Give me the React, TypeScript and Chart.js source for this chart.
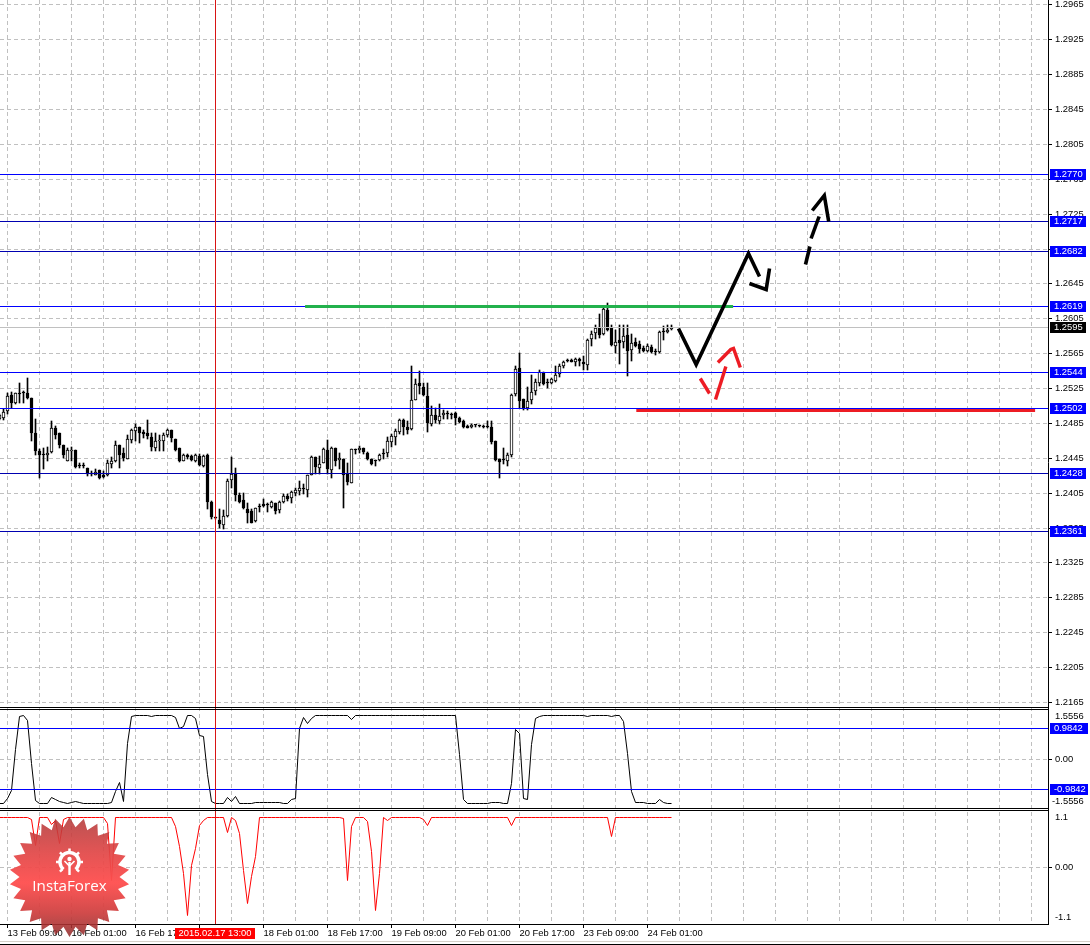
import React, { useEffect, useRef } from "react";
import { Chart, registerables, LinearScale } from "chart.js";

// The terminal draws on whole pixels: this scale does the same.
class SnapScale extends LinearScale {
  static id = "snapLinear";
  static defaults = LinearScale.defaults;
  getPixelForValue(value: number) {
    return Math.floor((super.getPixelForValue as any)(value) + 0.02);
  }
}

Chart.register(...registerables, SnapScale);

// Candles, quoted in points (1/100000 of a price unit), hourly bars
const POINT = 100000;
const opens = [124890,124902,124986,125165,125074,125177,125204,125188,125131,124730,124524,124482,124478,124516,124791,124730,124592,124413,124531,124535,124352,124352,124337,124268,124256,124306,124249,124252,124375,124413,124592,124501,124440,124654,124757,124806,124745,124730,124692,124566,124646,124642,124707,124768,124661,124558,124417,124482,124470,124417,124470,124356,124478,123947,123760,123741,123680,123783,124199,124275,124027,123970,123867,123836,123721,123890,123916,123905,123886,123935,123851,123943,124016,123989,124046,124069,124092,124084,124256,124455,124333,124394,124535,124310,124558,124424,124440,124260,124161,124535,124539,124558,124508,124432,124417,124428,124497,124501,124631,124688,124741,124879,124806,124776,125116,125311,125265,125162,124837,124944,124871,124940,124955,124940,124959,124902,124871,124810,124802,124822,124814,124806,124814,124806,124646,124440,124424,124413,124482,125177,125486,125120,125024,125112,125215,125311,125425,125307,125303,125330,125406,125498,125559,125574,125547,125586,125551,125517,125811,125880,125952,125868,126151,125941,125731,125796,125777,125861,125685,125780,125758,125712,125670,125727,125681,125662,125895,125891,125929];
const highs = [124948,125005,125196,125204,125196,125303,125215,125360,125131,124890,124547,124558,124577,124867,124814,124730,124592,124566,124573,124535,124394,124394,124337,124298,124325,124306,124298,124421,124463,124638,124592,124566,124707,124783,124841,124806,124768,124887,124738,124730,124715,124730,124783,124768,124669,124566,124489,124497,124482,124489,124489,124478,124489,123955,123767,123867,123851,124203,124463,124329,124050,124050,123928,123867,123878,123916,123974,123935,123955,123935,123955,124031,124031,124069,124107,124184,124153,124256,124470,124463,124470,124562,124650,124577,124558,124501,124440,124386,124554,124554,124585,124566,124516,124440,124424,124493,124547,124692,124719,124783,124890,124890,124871,125509,125356,125448,125303,125311,125043,125024,125062,124997,124986,124967,124974,124921,124879,124829,124837,124829,124825,124822,124875,124871,124646,124440,124566,124508,125181,125509,125647,125120,125265,125395,125349,125463,125433,125349,125368,125509,125532,125559,125578,125589,125597,125597,125616,125815,125903,125979,126105,126170,126227,125979,125914,125979,125971,125971,125876,125826,125788,125738,125750,125742,125693,125903,125960,125979,125979];
const lows = [124879,124879,124948,125024,125062,125081,125081,125120,124642,124478,124218,124317,124413,124508,124661,124566,124447,124413,124413,124329,124329,124329,124241,124241,124249,124210,124218,124241,124337,124401,124337,124413,124432,124615,124642,124623,124676,124661,124528,124524,124524,124524,124692,124631,124528,124401,124409,124440,124413,124405,124356,124348,123859,123752,123744,123649,123637,123775,124107,123951,123935,123859,123706,123699,123714,123828,123890,123828,123874,123802,123821,123935,123955,123935,124012,124019,124031,124004,124249,124260,124260,124386,124260,124222,124356,124317,123874,124134,124157,124489,124508,124489,124424,124363,124356,124413,124432,124463,124577,124592,124719,124711,124719,124768,125112,125177,125158,124745,124814,124852,124833,124898,124898,124890,124825,124852,124791,124791,124795,124802,124799,124795,124795,124608,124417,124218,124375,124356,124463,125158,125024,124997,124997,125062,125165,125272,125280,125253,125292,125318,125379,125483,125547,125544,125502,125502,125463,125463,125731,125815,125826,125857,125903,125731,125654,125521,125712,125387,125559,125723,125654,125666,125662,125654,125628,125654,125807,125884,125922];
const closes = [124936,124978,125158,125081,125188,125177,125188,125131,124730,124528,124478,124482,124508,124795,124707,124592,124478,124535,124539,124344,124352,124352,124268,124268,124291,124222,124226,124394,124413,124600,124482,124443,124669,124768,124806,124738,124722,124696,124573,124646,124654,124707,124772,124673,124539,124413,124482,124455,124421,124478,124367,124466,123943,123771,123760,123691,123783,124188,124260,124027,123943,123870,123813,123706,123878,123890,123897,123905,123947,123840,123947,124008,123974,124061,124084,124107,124092,124249,124463,124348,124382,124547,124317,124566,124413,124451,124256,124168,124547,124535,124566,124516,124436,124382,124417,124486,124497,124646,124699,124761,124883,124802,124768,125112,125299,125272,125169,124852,124936,124879,124932,124967,124955,124940,124910,124864,124802,124795,124825,124822,124814,124806,124802,124631,124424,124401,124424,124482,125173,125471,125101,125024,125104,125207,125322,125433,125292,125307,125349,125402,125502,125544,125559,125551,125578,125559,125521,125807,125876,125941,125857,126162,125922,125742,125780,125769,125853,125674,125769,125731,125700,125674,125731,125662,125666,125891,125895,125922,125956];

// Lower panes
const blackOscillator = [-1.42,-1.42,-1.26,-1.01,0.29,1.36,1.41,1.25,-0.14,-1.34,-1.42,-1.42,-1.42,-1.24,-1.31,-1.36,-1.39,-1.42,-1.41,-1.37,-1.41,-1.42,-1.42,-1.42,-1.42,-1.42,-1.42,-1.42,-1.40,-1.05,-0.76,-1.37,0.50,1.36,1.40,1.40,1.41,1.41,1.37,1.38,1.40,1.40,1.41,1.40,1.34,0.98,1.04,1.41,1.38,1.30,0.74,0.72,-0.51,-1.37,-1.43,-1.42,-1.42,-1.24,-1.35,-1.19,-1.42,-1.42,-1.42,-1.42,-1.41,-1.40,-1.40,-1.41,-1.41,-1.41,-1.41,-1.42,-1.42,-1.31,-1.26,0.98,1.32,1.14,1.30,1.39,1.41,1.40,1.39,1.39,1.39,1.41,1.41,1.38,1.28,1.40,1.40,1.40,1.40,1.40,1.40,1.40,1.40,1.40,1.40,1.40,1.40,1.40,1.39,1.40,1.40,1.40,1.39,1.38,1.39,1.39,1.39,1.39,1.39,1.39,1.39,0.13,-1.29,-1.42,-1.42,-1.42,-1.42,-1.42,-1.42,-1.40,-1.40,-1.40,-1.42,-1.42,-0.78,0.95,0.82,-1.26,-1.29,0.45,1.30,1.36,1.39,1.41,1.41,1.41,1.41,1.41,1.41,1.41,1.41,1.41,1.39,1.36,1.40,1.40,1.40,1.40,1.40,1.36,1.40,1.39,1.20,0.18,-1.05,-1.39,-1.41,-1.40,-1.42,-1.42,-1.42,-1.29,-1.40,-1.42,-1.42];
const redOscillator = [1.09,1.09,1.09,1.09,1.09,1.09,1.09,1.09,1.05,0.48,1.09,1.09,1.09,0.94,1.02,0.51,1.05,1.09,1.09,1.09,1.09,1.09,1.09,1.09,1.09,1.09,1.09,0.96,-0.29,1.09,1.09,1.09,1.09,1.09,1.09,1.09,1.09,1.09,1.09,1.09,1.09,1.09,1.09,1.09,0.89,0.45,-0.14,-1.06,0.04,0.41,0.92,1.02,1.09,1.09,1.09,1.09,1.09,0.76,1.09,1.02,0.74,-0.07,-0.81,-0.21,0.24,1.09,1.09,1.09,1.09,1.09,1.09,1.09,1.09,1.09,1.09,1.09,1.09,1.09,1.09,1.09,1.09,1.09,1.09,1.09,1.09,1.09,1.07,-0.29,0.89,1.09,1.09,1.09,1.00,0.34,-0.95,-0.14,1.09,1.02,1.09,1.09,1.09,1.09,1.09,1.09,1.09,1.09,1.05,0.91,1.09,1.09,1.09,1.09,1.09,1.09,1.09,1.09,1.09,1.09,1.09,1.09,1.09,1.09,1.09,1.09,1.09,1.09,1.09,1.09,0.91,1.09,1.09,1.09,1.09,1.09,1.09,1.09,1.09,1.09,1.09,1.09,1.09,1.09,1.09,1.09,1.09,1.09,1.09,1.09,1.09,1.09,1.09,1.09,1.08,0.67,1.09,1.09,1.09,1.09,1.09,1.09,1.09,1.09,1.09,1.09,1.09,1.09,1.09,1.09,1.09];

// Axes
const priceTicks = [1.2965,1.2925,1.2885,1.2845,1.2805,1.2765,1.2725,1.2685,1.2645,1.2605,1.2565,1.2525,1.2485,1.2445,1.2405,1.2365,1.2325,1.2285,1.2245,1.2205,1.2165];
const timeLabels = ["13 Feb 09:00","16 Feb 01:00","16 Feb 17:00","17 Feb 09:00","18 Feb 01:00","18 Feb 17:00","19 Feb 09:00","20 Feb 01:00","20 Feb 17:00","23 Feb 09:00","24 Feb 01:00"];
const gridBars = [2,10,18,26,34,42,50,58,66,74,82,90,98,106,114,122,130,138,146,154,162,170,178,186,194,202,210,218,226,234,242,250,258];
const labelledBars = [2,18,34,50,66,82,98,114,130,146,162];
const crossBar = 54;
const crossLabel = "2015.02.17 13:00";
const xMin = 0.125;
const xMax = 262.125;

// Horizontal levels
const blueLevels = [1.2770,1.2619,1.2544,1.2502];
const darkLevels = [1.2717,1.2682,1.2428,1.2361];
const bidPrice = 1.2595;
const bidGapBars = [192.9,194.4];
const oscLevels = [0.9842,-0.9842];

// Hand-drawn forecast strokes
const blackStrokes = [
  { bars: [169.74,174.17,187.24,190], prices: [1.25941,1.25532,1.26794,1.26533] },
  { bars: [187.5,191.67,192.5], prices: [1.26458,1.26389,1.2663] },
  { bars: [201.5,202.6], prices: [1.26668,1.26877] },
  { bars: [202.9,204.9], prices: [1.26966,1.27222] },
  { bars: [203.2,206.2,207.3], prices: [1.2729,1.27462,1.27164] },
];
const redStrokes = [
  { bars: [175.2,177.5], prices: [1.25368,1.25196] },
  { bars: [179,181.6], prices: [1.25127,1.25501] },
  { bars: [179.6,182.8,183.5,185.2], prices: [1.25551,1.25693,1.25712,1.25494] },
];
const greenBars = [76.4,183.4];
const greenPrice = 1.2619;
const redBars = [159.2,258.9];
const redPrice = 1.25004;

const FONT = '"Liberation Sans"';
const FONT_SIZE = 9.4;
const GRID = "#c0c0c0";
const DASH = [4, 3];
const NONE = "rgba(0,0,0,0)";

const tags = (ctx: CanvasRenderingContext2D, text: string, y: number, w: number, bg: string) => {
  ctx.fillStyle = bg;
  ctx.fillRect(1050, Math.round(y) - 5, w, 11);
  ctx.fillStyle = "#ffffff";
  ctx.font = `${FONT_SIZE}px ${FONT}`;
  ctx.textAlign = "left";
  ctx.textBaseline = "middle";
  ctx.fillText(text, 1054, y + 0.5);
};

const drawBadge = (ctx: CanvasRenderingContext2D) => {
  const cx = 69.5, cy = 877, spikes = 26, outer = 60, inner = 50;
  ctx.save();
  const g = ctx.createLinearGradient(0, cy - outer, 0, cy + outer);
  g.addColorStop(0, "rgba(176,52,52,0.85)");
  g.addColorStop(0.3, "rgba(225,70,70,0.92)");
  g.addColorStop(0.55, "rgba(255,80,80,0.96)");
  g.addColorStop(0.8, "rgba(205,60,60,0.92)");
  g.addColorStop(1, "rgba(140,40,40,0.85)");
  ctx.fillStyle = g;
  ctx.beginPath();
  for (let k = 0; k < spikes * 2; k++) {
    const r = k % 2 === 0 ? outer : inner;
    const a = (Math.PI * k) / spikes - Math.PI / 2;
    const px = cx + r * Math.cos(a), py = cy + r * Math.sin(a);
    if (k === 0) ctx.moveTo(px, py); else ctx.lineTo(px, py);
  }
  ctx.closePath();
  ctx.fill();
  ctx.fillStyle = "#ffffff";
  ctx.strokeStyle = "#ffffff";
  ctx.font = `15.2px "Open Sans"`;
  ctx.textAlign = "center";
  ctx.textBaseline = "middle";
  ctx.fillText("InstaForex", 69.5, 887);
  const gx = 69.5, gy = 862;
  ctx.lineWidth = 3.5;
  ctx.beginPath();
  ctx.arc(gx, gy, 9.5, Math.PI * 0.72, Math.PI * 2.28);
  ctx.stroke();
  ctx.lineWidth = 2.5;
  for (let k = -3; k <= 3; k++) {
    const a = -Math.PI / 2 + (k * Math.PI) / 4;
    ctx.beginPath();
    ctx.moveTo(gx + 10 * Math.cos(a), gy + 10 * Math.sin(a));
    ctx.lineTo(gx + 13.5 * Math.cos(a), gy + 13.5 * Math.sin(a));
    ctx.stroke();
  }
  ctx.beginPath();
  ctx.arc(gx, gy - 3, 2.2, 0, Math.PI * 2);
  ctx.fill();
  ctx.fillRect(gx - 1.2, gy, 2.4, 13);
  ctx.lineWidth = 1.6;
  ctx.beginPath();
  ctx.moveTo(gx - 5, gy - 1);
  ctx.lineTo(gx, gy + 4);
  ctx.lineTo(gx + 5, gy - 1);
  ctx.stroke();
  ctx.restore();
};

const chartDecor = {
  id: "chartDecor",
  beforeDraw(chart: any) {
    const { ctx, width, height } = chart;
    ctx.save();
    ctx.fillStyle = "#ffffff";
    ctx.fillRect(0, 0, width, height);
    ctx.restore();
  },
  beforeDatasetDraw(chart: any, args: any) {
    if (args.meta.type === "line") {
      chart.ctx.save();
      chart.ctx.translate(0, 0.5);
    }
  },
  afterDatasetDraw(chart: any, args: any) {
    if (args.meta.type === "line") chart.ctx.restore();
  },
  afterDatasetsDraw(chart: any) {
    const { ctx, scales } = chart;
    const x = Math.floor(scales.x.getPixelForValue(crossBar)) + 0.5;
    ctx.save();
    ctx.strokeStyle = "#d81414";
    ctx.lineWidth = 1;
    ctx.beginPath();
    ctx.moveTo(x, 0);
    ctx.lineTo(x, scales.y3.bottom);
    ctx.stroke();
    ctx.restore();
  },
  afterDraw(chart: any) {
    const { ctx, scales, width } = chart;
    const { x, y, y2, y3 } = scales;
    ctx.save();
    ctx.strokeStyle = "#000000";
    ctx.lineWidth = 1;
    const right = x.right;
    [y.bottom - 0.5, y.bottom + 1.5, y2.bottom - 0.5, y2.bottom + 1.5, y3.bottom + 0.5].forEach((py: number) => {
      ctx.beginPath();
      ctx.moveTo(0, py);
      ctx.lineTo(right, py);
      ctx.stroke();
    });
    ctx.beginPath();
    ctx.moveTo(right + 0.5, 0);
    ctx.lineTo(right + 0.5, y3.bottom + 1);
    ctx.stroke();
    ctx.fillStyle = "#d4d0c8";
    ctx.fillRect(0, 941, width, 1);
    ctx.fillStyle = "#000000";
    ctx.fillRect(0, 944, width, 1);

    // labels of the upper oscillator that sit inside its pane
    ctx.font = `${FONT_SIZE}px ${FONT}`;
    ctx.textAlign = "left";
    ctx.textBaseline = "middle";
    ctx.fillStyle = "#000000";
    ctx.fillText("1.5556", 1055, y2.getPixelForValue(1.5556) + 6.5);
    ctx.fillText("-1.5556", 1052, y2.getPixelForValue(-1.5556) - 6);

    blueLevels.concat(darkLevels).forEach((p) => tags(ctx, p.toFixed(4), y.getPixelForValue(p), 36, "#0000ff"));
    tags(ctx, bidPrice.toFixed(4), y.getPixelForValue(bidPrice), 36, "#000000");
    oscLevels.forEach((p) => tags(ctx, p.toFixed(4), y2.getPixelForValue(p), 38, "#0000ff"));

    // crosshair date tag
    const cx = x.getPixelForValue(crossBar);
    ctx.fillStyle = "#ff0000";
    ctx.fillRect(cx - 40.5, 928, 80, 11);
    ctx.fillStyle = "#ffffff";
    ctx.textAlign = "center";
    ctx.fillText(crossLabel, cx - 0.5, 933.5);

    drawBadge(ctx);
    ctx.restore();
  },
};

const xy = (bars: number[], values: number[]) => bars.map((b, k) => ({ x: b, y: values[k] }));
const noPadding = (s: any) => {
  s.paddingTop = 0;
  s.paddingBottom = 0;
  s.paddingLeft = 0;
  s.paddingRight = 0;
};

export default function App() {
  const ref = useRef<HTMLCanvasElement | null>(null);

  useEffect(() => {
    if (!ref.current) return;
    const idx = opens.map((_, i) => i);
    const lineBase = { type: "line", pointRadius: 0, tension: 0, fill: false, xAxisID: "x" };
    const stroke = (bars: number[], prices: number[], color: string, width: number, order: number) => ({
      ...lineBase,
      data: xy(bars, prices),
      borderColor: color,
      borderWidth: width,
      yAxisID: "y",
      order,
      borderCapStyle: "butt",
    });
    const hLevel = (price: number, color: string, axis: string) => ({
      ...lineBase,
      data: [{ x: xMin, y: price }, { x: xMax, y: price }],
      borderColor: color,
      borderWidth: 1,
      yAxisID: axis,
      order: 2,
    });

    const datasets: any[] = [
      ...blackStrokes.map((s) => stroke(s.bars, s.prices, "#000000", 3.6, 0)),
      ...redStrokes.map((s) => stroke(s.bars, s.prices, "#ed1c24", 3.4, 0)),
      stroke(greenBars, [greenPrice, greenPrice], "#22b14c", 3, 1),
      stroke(redBars, [redPrice, redPrice], "#ed1c24", 3, 1),
      ...blueLevels.map((p) => hLevel(p, "#0000ff", "y")),
      ...darkLevels.map((p) => hLevel(p, "#0000b0", "y")),
      ...oscLevels.map((p) => hLevel(p, "#0000ff", "y2")),
      {
        ...lineBase,
        data: [
          { x: xMin, y: bidPrice },
          { x: bidGapBars[0], y: bidPrice },
          { x: bidGapBars[0], y: null },
          { x: bidGapBars[1], y: bidPrice },
          { x: xMax, y: bidPrice },
        ],
        spanGaps: false,
        borderColor: "#c0c0c0",
        borderWidth: 1,
        yAxisID: "y",
        order: 3,
      },
      {
        ...lineBase,
        data: xy(idx, blackOscillator),
        borderColor: "#000000",
        borderWidth: 1,
        yAxisID: "y2",
        order: 3,
      },
      {
        ...lineBase,
        data: xy(idx, redOscillator),
        borderColor: "#ff0000",
        borderWidth: 1,
        yAxisID: "y3",
        order: 3,
      },
      {
        type: "bar",
        data: idx.map((i) => ({
          x: i,
          y: [Math.min(opens[i], closes[i]) / POINT, Math.max(opens[i], closes[i]) / POINT],
        })),
        backgroundColor: idx.map((i) => (closes[i] > opens[i] ? "#ffffff" : "#000000")),
        borderColor: "#000000",
        borderWidth: 1,
        borderSkipped: false,
        barThickness: 3,
        minBarLength: 1,
        grouped: false,
        xAxisID: "x",
        yAxisID: "y",
        order: 4,
      },
      {
        type: "bar",
        data: idx.map((i) => ({ x: i, y: [lows[i] / POINT, highs[i] / POINT] })),
        backgroundColor: "#000000",
        borderWidth: 0,
        barThickness: 1,
        grouped: false,
        xAxisID: "x",
        yAxisID: "y",
        order: 5,
      },
    ];

    const tickFont = { family: FONT, size: FONT_SIZE };
    const yCommon = {
      type: "snapLinear",
      position: "right",
      stack: "panes",
      offset: false,
      border: { display: false, dash: DASH },
      afterFit: (s: any) => {
        s.width = 42;
        noPadding(s);
      },
    };
    const paneGrid = {
      color: GRID,
      lineWidth: 1,
      tickLength: 4,
      tickColor: "#000000",
      drawTicks: true,
    };

    const chart = new Chart(ref.current, {
      type: "scatter",
      data: { datasets },
      plugins: [chartDecor],
      options: {
        animation: false,
        responsive: false,
        maintainAspectRatio: false,
        devicePixelRatio: 1,
        events: [],
        layout: { padding: 0 },
        plugins: { legend: { display: false }, tooltip: { enabled: false }, title: { display: false } },
        scales: {
          x: {
            type: "linear",
            position: "bottom",
            min: xMin,
            max: xMax,
            offset: false,
            border: { display: false, dash: DASH },
            grid: {
              offset: false,
              color: GRID,
              lineWidth: 1,
              tickLength: 4,
              tickColor: (c: any) => (labelledBars.includes(c.tick?.value) ? "#000000" : NONE),
            },
            afterBuildTicks: (s: any) => {
              s.ticks = gridBars.map((value) => ({ value }));
            },
            afterFit: (s: any) => {
              s.height = 21;
              noPadding(s);
            },
            ticks: {
              autoSkip: false,
              maxRotation: 0,
              minRotation: 0,
              align: "start",
              padding: 0,
              color: "#000000",
              font: tickFont,
              callback: (v: number) => {
                const k = labelledBars.indexOf(v);
                return k >= 0 ? timeLabels[k] : "";
              },
            },
          },
          y: {
            ...yCommon,
            stackWeight: 708,
            min: 1.21586,
            max: 1.29707,
            grid: paneGrid,
            afterBuildTicks: (s: any) => {
              s.ticks = priceTicks.map((value) => ({ value }));
            },
            ticks: {
              autoSkip: false,
              padding: 3,
              color: "#000000",
              font: tickFont,
              callback: (v: number) => v.toFixed(4),
            },
          },
          y2: {
            ...yCommon,
            stackWeight: 101,
            min: -1.603,
            max: 1.635,
            grid: paneGrid,
            afterBuildTicks: (s: any) => {
              s.ticks = [{ value: 0 }];
            },
            ticks: {
              autoSkip: false,
              padding: 3,
              color: "#000000",
              font: tickFont,
              callback: (v: number) => v.toFixed(2),
            },
          },
          y3: {
            ...yCommon,
            stackWeight: 115,
            min: -1.254,
            max: 1.276,
            grid: {
              ...paneGrid,
              color: (c: any) => (c.tick?.value === 0 ? GRID : NONE),
              tickColor: (c: any) => (c.tick?.value === 0 ? "#000000" : NONE),
            },
            afterBuildTicks: (s: any) => {
              s.ticks = [{ value: 1.1 }, { value: 0 }, { value: -1.1 }];
            },
            ticks: {
              autoSkip: false,
              padding: 3,
              color: "#000000",
              font: tickFont,
              callback: (v: number) => (v === 0 ? "0.00" : String(v)),
            },
          },
        },
      } as any,
    } as any);
    return () => chart.destroy();
  }, []);

  return (
    <canvas
      ref={ref}
      width={1090}
      height={945}
      style={{ position: "absolute", left: 0, top: 0, display: "block", width: 1090, height: 945 }}
    />
  );
}
